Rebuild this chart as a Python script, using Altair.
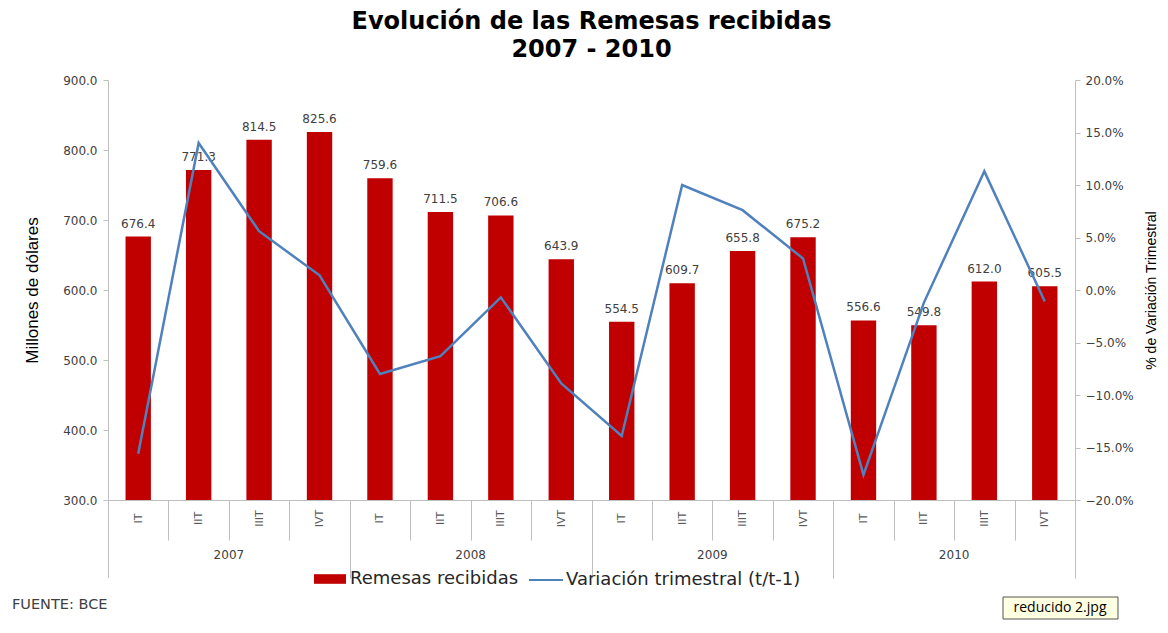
import json
import altair as alt
import pandas as pd

quarters = ["IT", "IIT", "IIIT", "IVT"] * 4
years = ["2007", "2008", "2009", "2010"]
remesas = [676.4, 771.3, 814.5, 825.6, 759.6, 711.5, 706.6, 643.9,
           554.5, 609.7, 655.8, 675.2, 556.6, 549.8, 612.0, 605.5]
variacion_pct = [-15.6, 14.0, 5.6, 1.4, -8.0, -6.3, -0.7, -8.9,
                 -13.9, 10.0, 7.6, 3.0, -17.6, -1.2, 11.3, -1.1]
left_ticks = [300, 400, 500, 600, 700, 800, 900]
right_ticks_pct = [-20, -15, -10, -5, 0, 5, 10, 15, 20]

S1 = "Remesas recibidas"
S2 = "Variación trimestral (t/t-1)"

df = pd.DataFrame({
    "idx": list(range(len(remesas))),
    "q": quarters,
    "remesas": remesas,
    "var": [v / 100 for v in variacion_pct],
    "s1": [S1] * len(remesas),
    "s2": [S2] * len(remesas),
})
ydf = pd.DataFrame({"idx": [4 * i + 2 for i in range(len(years))], "year": years})

FONT = "DejaVu Sans"
AXC = "#BFBFBF"

xscale = alt.Scale(paddingInner=0, paddingOuter=0)
year_test = "datum.value % 4 == 3"
x_axis = alt.Axis(
    title=None,
    labelExpr=f"{json.dumps(quarters)}[datum.value]",
    labelAngle=270, labelAlign="center", labelBaseline="middle",
    labelPadding={"condition": {"test": year_test, "value": -60}, "value": -22},
    labelFont=FONT, labelFontSize=11, labelColor="#595959",
    tickBand="extent",
    tickSize={"condition": {"test": year_test, "value": 78}, "value": 40},
    tickColor=AXC, domainColor=AXC,
)
X = alt.X("idx:O", scale=xscale, axis=x_axis)

left_axis = alt.Axis(
    title="Millones de dólares", values=left_ticks, format=".1f", grid=False,
    labelFont=FONT, labelFontSize=12, labelColor="#404040", labelPadding=6,
    tickSize=5, tickColor=AXC, domainColor=AXC,
    titleFont="Liberation Sans", titleFontSize=17, titleFontWeight="normal",
    titleColor="#000000", titlePadding=21,
)
right_axis = alt.Axis(
    orient="right", title="% de Variación Trimestral",
    values=[v / 100 for v in right_ticks_pct], format=".1%", grid=False,
    labelFont=FONT, labelFontSize=12, labelColor="#404040", labelPadding=5,
    tickSize=5, tickColor=AXC, domainColor=AXC,
    titleFont="Liberation Sans", titleFontSize=14, titleFontWeight="normal",
    titleColor="#000000", titlePadding=25, titleAngle=270,
)

base = alt.Chart(df)

bars = base.mark_bar(clip=True, width={"band": 0.42}).encode(
    x=X,
    y=alt.Y("remesas:Q", scale=alt.Scale(domain=[300, 900], zero=False), axis=left_axis),
    color=alt.Color("s1:N", scale=alt.Scale(domain=[S1], range=["#C00000"]),
                    legend=alt.Legend(title=None, orient="none", legendX=206, legendY=483,
                                      symbolType="M-1,-0.3L1,-0.3L1,0.3L-1,0.3Z", symbolSize=1024,
                                      symbolStrokeWidth=0, symbolOpacity=1, labelOffset=4,
                                      labelLimit=0,
                                      labelFont=FONT, labelFontSize=18, labelColor="#262626")),
)
labels = base.mark_text(baseline="bottom", dy=-6, font=FONT, fontSize=12, color="#404040").encode(
    x=X,
    y=alt.Y("remesas:Q", scale=alt.Scale(domain=[300, 900], zero=False), axis=left_axis),
    text=alt.Text("remesas:Q", format=".1f"),
)
left = alt.layer(bars, labels)

line = base.mark_line(strokeWidth=2.5).encode(
    x=X,
    y=alt.Y("var:Q", scale=alt.Scale(domain=[-0.2, 0.2]), axis=right_axis),
    stroke=alt.Stroke("s2:N", scale=alt.Scale(domain=[S2], range=["#4F81BD"]),
                      legend=alt.Legend(title=None, orient="none", legendX=420, legendY=482,
                                        symbolType="stroke", symbolSize=1156,
                                        symbolStrokeWidth=2, labelOffset=2, labelLimit=0,
                                        labelFont=FONT, labelFontSize=18, labelColor="#262626")),
)

year_text = alt.Chart(ydf).mark_text(font=FONT, fontSize=12, color="#404040").encode(
    x=alt.X("idx:O", bandPosition=0, scale=xscale, axis=x_axis),
    y=alt.value(475),
    text="year:N",
)

edge_df = pd.DataFrame({"e": [0]})
left_edge = alt.Chart(edge_df).mark_rule(color=AXC, strokeWidth=1).encode(
    x=alt.value(0.5), y=alt.value(420), y2=alt.value(498))

note_df = pd.DataFrame({"t": ["FUENTE: BCE"]})
fuente = alt.Chart(note_df).mark_text(align="left", baseline="middle", font=FONT,
                                      fontSize=14.5, color="#404040").encode(
    x=alt.value(-96), y=alt.value(525), text="t:N")

tip_df = pd.DataFrame({"t": ["reducido 2.jpg"]})
tip_box = alt.Chart(tip_df).mark_rect(fill="#FFFFE1", stroke="#555555", strokeWidth=1).encode(
    x=alt.value(895), x2=alt.value(1010), y=alt.value(517), y2=alt.value(539))
tip_text = alt.Chart(tip_df).mark_text(font="Open Sans", fontSize=14, color="#000000",
                                       baseline="middle").encode(
    x=alt.value(952), y=alt.value(528), text="t:N")

chart = alt.layer(left, line, year_text, left_edge, fuente, tip_box, tip_text).resolve_scale(
    y="independent"
).properties(
    width=967, height=420,
    autosize=alt.AutoSizeParams(type="none"),
    padding={"left": 100, "top": 72, "right": 85, "bottom": 120},
    background="white",
    title=alt.Title(["Evolución de las Remesas recibidas", "2007 - 2010"],
                    font="DejaVu Sans", fontSize=24, fontWeight="bold",
                    anchor="middle", offset=12, lineHeight=28, color="#000000"),
).configure_view(stroke=None)

chart.save("out.html", embed_options={"renderer": "svg", "actions": False})
